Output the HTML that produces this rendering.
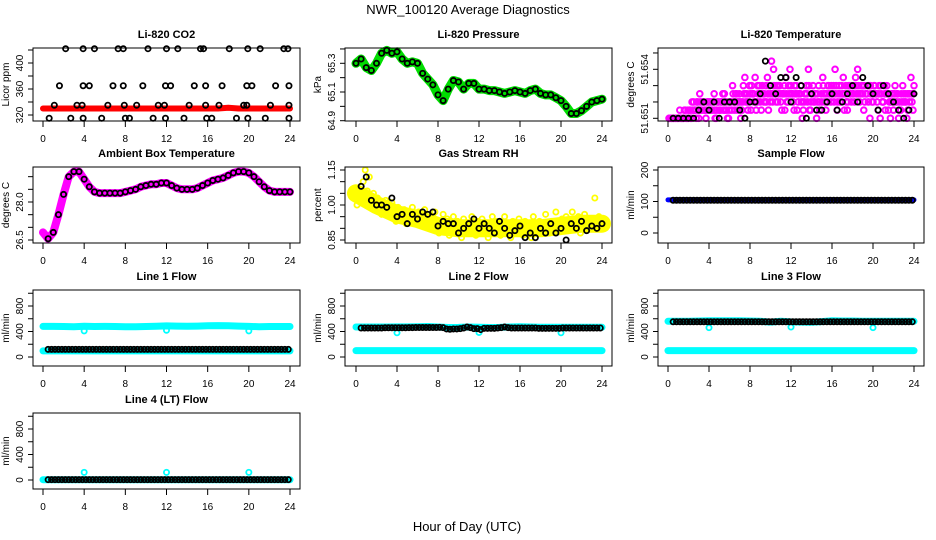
<!DOCTYPE html>
<html><head><meta charset="utf-8"><title>NWR_100120 Average Diagnostics</title>
<style>
html,body{margin:0;padding:0;background:#fff;}
svg{display:block;font-family:"Liberation Sans",Arial,sans-serif;}
</style></head>
<body>
<svg id="chart" width="936" height="540" viewBox="0 0 936 540" xmlns="http://www.w3.org/2000/svg">
<rect x="0" y="0" width="936" height="540" fill="#fff"/>
<text x="468" y="14" text-anchor="middle" font-size="13">NWR_100120  Average Diagnostics</text>
<text x="467" y="531" text-anchor="middle" font-size="13">Hour of Day (UTC)</text>
</svg>
<script>
// ---------- data ----------
const xTicks = [0,4,8,12,16,20,24];
const co2HighX = [2.2,3.9,5.0,7.3,7.8,10.2,12.0,13.1,15.3,15.6,18.1,19.9,21.1,23.4,23.8];
const co2MidX = [1.6,3.9,4.5,6.8,7.8,9.7,11.9,12.4,14.7,15.8,17.4,19.8,20.3,22.6,23.9];
const co2LowX = [1.1,3.3,3.8,6.3,7.9,9.1,11.2,11.8,14.2,15.8,17.1,19.5,19.8,22.1,23.9];
const co2MinX = [0.6,2.7,3.9,5.7,8.0,8.4,10.7,11.9,13.7,15.9,16.4,18.8,19.9,21.6,23.9];
const co2Levels = [422,365,335,315];
const co2Red = [330,330,330,330,330,330,330,330,330,330,330,330,330,330,330,330,330,330,331,330,330,330,330,330,330];
const pressure = [65.30,65.33,65.27,65.25,65.30,65.37,65.39,65.37,65.38,65.33,65.30,65.31,65.30,65.23,65.19,65.15,65.08,65.04,65.12,65.18,65.17,65.12,65.16,65.16,65.12,65.12,65.11,65.11,65.10,65.09,65.10,65.11,65.10,65.09,65.11,65.12,65.09,65.08,65.08,65.06,65.04,65.00,64.95,64.95,64.97,65.00,65.03,65.04,65.05];
const tempPinkA = [0,0,0,0,0,0,0,0,1,0, 1,0,2,1,2,3,1,2,0,2, 2,1,3,0,2,1,2,3,1,0, 2,4,1,3,2,0,2,5,3,2, 1,3,5,2,4,1,3,2,5,4, 7,6,3,2,4,1,3,5,2,6, 3,1,4,2,3,0,2,4,6,1, 3,2,0,4,1,5,2,3,4,2, 3,6,1,4,2,5,3,1,4,2, 3,5,6,2,4,1,3,4,0,2, 4,3,1,0,2,4,3,1,0,2, 3,2,0,1,4,2,0,3,5,1];
const tempPinkB = [0,0,0,0,0,0,0,1,0,0, 0,1,1,2,0,1,2,1,2,1, 1,2,0,2,1,2,1,2,0,2, 1,2,3,1,2,1,3,2,1,3, 3,2,1,3,2,4,3,2,1,3, 2,3,4,3,2,3,1,2,3,4, 2,3,1,3,2,1,3,2,1,3, 2,3,2,1,2,3,1,4,3,3, 2,4,3,2,3,1,2,4,3,3, 2,3,4,3,3,2,3,4,3,2, 3,2,4,3,2,1,3,2,3,1, 2,3,1,2,3,2,1,3,2,4];
const tempPinkC = [0,0,0,0,0,1,0,0,0,1, 1,2,1,0,1,2,2,1,1,2, 2,2,1,1,2,2,3,1,2,1, 2,3,2,2,3,2,4,3,2,4, 4,3,2,4,3,3,2,4,3,2, 3,4,2,4,3,3,4,3,4,3, 3,4,3,3,4,2,3,3,4,2, 4,3,3,2,3,4,3,2,3,4, 4,3,2,3,4,3,4,2,3,4, 4,4,3,3,4,4,3,2,4,3, 4,3,3,4,2,3,4,3,2,3, 4,3,2,3,2,3,3,2,3,3];
const tempBlack = [0,0,0,0,0,1,2,1,2,0,2,2,2,1,0,2,2,3,7,4,3,5,5,2,5,4,0,3,1,1,2,3,1,2,3,4,2,5,4,3,1,4,3,2,1,0,1,3];
const ambient = [26.8,26.55,26.8,27.5,28.3,29.0,29.2,29.2,28.9,28.6,28.4,28.35,28.35,28.35,28.35,28.35,28.4,28.45,28.5,28.6,28.65,28.7,28.7,28.75,28.75,28.65,28.55,28.5,28.5,28.5,28.55,28.65,28.75,28.85,28.9,28.95,29.05,29.15,29.2,29.2,29.15,29.0,28.8,28.6,28.45,28.4,28.4,28.4,28.4];
const rhTrend = [1.05,1.00,0.96,0.94,0.91,0.90,0.90,0.90,0.90,0.90,0.91,0.92,0.92];
const rhYellow = [1.00,1.03,1.08,1.10,1.15,1.06,1.12,1.02,1.05,0.98, 1.03,1.01,0.96,1.00,1.02,0.98,0.95,1.01,0.97,0.93, 0.99,0.96,0.94,0.98,0.92,0.97,0.95,0.99,0.93,0.96, 0.97,0.92,0.95,0.98,0.94,0.96,0.91,0.95,0.97,0.93, 0.88,0.93,0.96,0.90,0.94,0.87,0.92,0.95,0.89,0.93, 0.91,0.86,0.94,0.90,0.92,0.88,0.95,0.91,0.87,0.93, 0.90,0.94,0.88,0.92,0.86,0.91,0.95,0.89,0.93,0.90, 0.87,0.92,0.95,0.88,0.91,0.86,0.93,0.90,0.88,0.94, 0.91,0.87,0.93,0.89,0.92,0.86,0.95,0.90,0.88,0.93, 0.92,0.89,0.96,0.91,0.88,0.93,0.90,0.97,0.92,0.89, 0.94,0.91,0.95,0.89,0.93,0.97,0.90,0.92,0.95,0.88, 0.93,0.96,0.91,0.94,0.90,0.93,1.03,0.92,0.95,0.91];
const rhBlack = [1.08,1.12,1.02,1.00,1.00,0.99,1.03,0.95,0.96,0.92,0.96,0.94,0.97,0.96,0.97,0.91,0.93,0.92,0.92,0.88,0.90,0.92,0.94,0.90,0.92,0.90,0.88,0.93,0.90,0.87,0.89,0.91,0.86,0.88,0.86,0.90,0.88,0.92,0.88,0.90,0.85,0.92,0.90,0.93,0.89,0.91,0.90,0.92];
const sampleBlue = [105,105,105,105,105,105,105,105,105,105,105,105,105,105,105,105,105,105,105,105,105,105,105,105,105];
const sampleBlack = new Array(71).fill(104);
const line1CyanHigh = [480,480,478,475,482,478,480,478,476,475,478,482,488,485,482,484,490,492,490,485,480,476,478,478,478];
const line1CyanLow = [95,95,95,95,95,95,95,95,95,95,95,95,95,95,95,95,95,95,95,95,95,95,95,95,95];
const line1Black = new Array(71).fill(120);
const line2CyanHigh = [470,470,470,470,472,472,475,478,470,462,465,470,466,462,465,470,474,470,468,468,466,466,466,466,466];
const line2CyanLow = [100,100,100,100,100,100,100,100,100,100,100,100,100,100,100,100,100,100,100,100,100,100,100,100,100];
const line2Black = [455,455,455,455,455,455,455,458,458,458,458,458,458,458,460,460,462,462,462,462,462,462,462,465,460,440,435,440,440,445,455,470,460,445,445,430,450,450,450,450,455,460,470,460,455,455,455,455,455,455,455,455,450,450,450,450,450,450,450,455,455,455,455,455,455,455,455,455,455,455,455];
const line3CyanHigh = [560,560,560,565,570,570,570,570,565,560,548,560,550,548,545,555,568,565,565,560,560,560,560,560,560];
const line3CyanLow = [100,100,100,100,100,100,100,100,100,100,100,100,100,100,100,100,100,100,100,100,100,100,100,100,100];
const line3Black = new Array(71).fill(552);
const line4Cyan = [5,5,5,5,5,5,5,5,5,5,5,5,5,5,5,5,5,5,5,5,5,5,5,5,5];
const line4Black = new Array(71).fill(5);
const cyanOutlierX = [4,12,20];
const line1Outlier = [410,420,410];
const line2Outlier = [380,385,380];
const line3Outlier = [460,470,460];
const line4Outlier = [120,120,120];

// ---------- layout ----------
const NS = "http://www.w3.org/2000/svg";
const svg = document.getElementById('chart');
const cols = [{l:33,r:300,x0:43,x24:290},{l:345,r:612,x0:356,x24:602},{l:658,r:924,x0:668,x24:914}];
const rows = [{t:48,b:121},{t:167,b:243},{t:290,b:366},{t:413,b:489}];

function el(tag, attrs, parent){
  const e = document.createElementNS(NS, tag);
  for (const k in attrs) e.setAttribute(k, attrs[k]);
  (parent||svg).appendChild(e);
  return e;
}

function panel(name, title, c, r, ys, ylab){
  const C = cols[c], R = rows[r];
  const g = el('g', {});
  
  
  const x = t => C.x0 + (C.x24 - C.x0) * t / 24;
  const y = v => ys.p0 + (ys.p1 - ys.p0) * (v - ys.v0) / (ys.v1 - ys.v0);
  const marks = el('g', {}, g);
  
  
  const box = el('rect', {x:C.l, y:R.t, width:C.r-C.l, height:R.b-R.t, fill:'none', stroke:'#000', 'stroke-width':1}, g);
  
  
  const tt = el('text', {x:(C.l+C.r)/2, y:R.t-10, 'text-anchor':'middle', 'font-size':11, 'font-weight':'bold'}, g);
  tt.textContent = title;
  
  
  const xa = el('g', {}, g);
  
  
  xTicks.forEach(t => {
    el('line', {x1:x(t), x2:x(t), y1:R.b, y2:R.b+6, stroke:'#000'}, xa);
    const lb = el('text', {x:x(t), y:R.b+21, 'text-anchor':'middle', 'font-size':10}, xa);
    lb.textContent = t;
    
    
  });
  const ya = el('g', {}, g);
  
  
  ys.ticks.forEach(v => el('line', {x1:C.l-5, x2:C.l, y1:y(v), y2:y(v), stroke:'#000'}, ya));
  ys.labels.forEach(v => {
    const lb = el('text', {x:C.l-10, y:y(v), 'text-anchor':'middle', 'font-size':10, transform:'rotate(-90 '+(C.l-10)+' '+y(v)+')'}, ya);
    lb.textContent = ys.fmt ? ys.fmt(v) : v;
    
    
  });
  const yl = el('text', {x:C.l-24, y:(R.t+R.b)/2, 'text-anchor':'middle', 'font-size':10, transform:'rotate(-90 '+(C.l-24)+' '+((R.t+R.b)/2)+')'}, g);
  yl.textContent = ylab;
  
  
  return {x, y, g:marks};
}

function pts(p, xs, vs, color, nm, rad, sw){
  vs.forEach((v, i) => {
    const c = el('circle', {cx:p.x(xs[i]), cy:p.y(v), r:rad||2.6, fill:'none', stroke:color, 'stroke-width':sw||1.8}, p.g);
    
    
  });
}
function band(p, xs, vs, color, w, nm){
  const d = vs.map((v, i) => (i ? 'L' : 'M') + p.x(xs[i]).toFixed(1) + ' ' + p.y(v).toFixed(1)).join(' ');
  const e = el('path', {d, fill:'none', stroke:color, 'stroke-width':w, 'stroke-linejoin':'round', 'stroke-linecap':'round'}, p.g);
  
  
}
const range = (n, a, s) => Array.from({length:n}, (_, i) => a + i * s);
const hourly = range(25, 0, 1);
const thirds = range(71, 0.5, 1/3);
const halves = range(49, 0, 0.5);

// CO2
let p = panel('co2-panel', 'Li-820 CO2', 0, 0, {v0:320,p0:115,v1:400,p1:63,ticks:[320,340,360,380,400,420],labels:[320,360,400]}, 'Licor ppm');
band(p, hourly, co2Red, '#ff0000', 6, 'co2-red-series');
[co2HighX, co2MidX, co2LowX, co2MinX].forEach((xs, k) => pts(p, xs, xs.map(() => co2Levels[k]), '#000', 'co2-black-point'));

// Pressure
p = panel('pressure-panel', 'Li-820 Pressure', 1, 0, {v0:64.9,p0:120.7,v1:65.3,p1:63.3,ticks:[64.9,65.0,65.1,65.2,65.3,65.4],labels:[64.9,65.1,65.3],fmt:v=>v.toFixed(1)}, 'kPa');
band(p, halves, pressure, '#00dd00', 9, 'pressure-green-series');
pts(p, halves, pressure, '#000', 'pressure-black-point');

// Li-820 temperature
p = panel('temperature-panel', 'Li-820 Temperature', 2, 0, {v0:51.651,p0:118.3,v1:51.654,p1:69.3,ticks:[51.651,51.652,51.653,51.654,51.655],labels:[51.651,51.654],fmt:v=>v.toFixed(3)}, 'degrees C');
pts(p, range(120, 0.1, 0.2), tempPinkA.map(l => 51.651 + l*0.0005), '#ff00ff', 'temperature-magenta-point', 2.8, 2);
pts(p, range(120, 0.2, 0.2), tempPinkB.map(l => 51.651 + l*0.0005), '#ff00ff', 'temperature-magenta-point', 2.8, 2);
pts(p, range(120, 0.15, 0.2), tempPinkC.map(l => 51.651 + l*0.0005), '#ff00ff', 'temperature-magenta-point', 2.8, 2);
pts(p, range(48, 0.5, 0.5), tempBlack.map(l => 51.651 + l*0.0005), '#000', 'temperature-black-point');

// Ambient box temperature
p = panel('ambient-panel', 'Ambient Box Temperature', 0, 1, {v0:26.5,p0:240,v1:28.0,p1:202,ticks:[26.5,27,27.5,28,28.5,29],labels:[26.5,28.0],fmt:v=>v.toFixed(1)}, 'degrees C');
band(p, halves, ambient, '#ff00ff', 8, 'ambient-magenta-series');
pts(p, halves.slice(1), ambient.slice(1), '#000', 'ambient-black-point');

// Gas stream RH
p = panel('rh-panel', 'Gas Stream RH', 1, 1, {v0:0.85,p0:240,v1:1.15,p1:170,ticks:[0.85,0.9,0.95,1.0,1.05,1.1,1.15],labels:[0.85,1.00,1.15],fmt:v=>v.toFixed(2)}, 'percent');
band(p, range(13, 0, 2), rhTrend, '#ffff00', 18, 'rh-yellow-band');
pts(p, range(120, 0.1, 0.2), rhYellow, '#ffff00', 'rh-yellow-point', 2.6, 1.8);
pts(p, range(48, 0.5, 0.5), rhBlack, '#000', 'rh-black-point');

// Sample flow
p = panel('sample-flow-panel', 'Sample Flow', 2, 1, {v0:0,p0:233,v1:200,p1:170,ticks:[0,50,100,150,200],labels:[0,100,200]}, 'ml/min');
band(p, hourly, sampleBlue, '#0000ff', 5, 'sample-blue-series');
pts(p, thirds, sampleBlack, '#000', 'sample-black-point');

// Line flows
const fy3 = {v0:0,p0:357,v1:800,p1:306,ticks:[0,200,400,600,800,1000],labels:[0,400,800]};
const fy4 = {v0:0,p0:480,v1:800,p1:429,ticks:[0,200,400,600,800,1000],labels:[0,400,800]};
p = panel('line1-panel', 'Line 1 Flow', 0, 2, fy3, 'ml/min');
band(p, hourly, line1CyanHigh, '#00ffff', 7, 'line1-cyan-high');
band(p, hourly, line1CyanLow, '#00ffff', 7, 'line1-cyan-low');
pts(p, cyanOutlierX, line1Outlier, '#00ffff', 'line1-cyan-outlier');
pts(p, thirds, line1Black, '#000', 'line1-black-point');

p = panel('line2-panel', 'Line 2 Flow', 1, 2, fy3, 'ml/min');
band(p, hourly, line2CyanHigh, '#00ffff', 7, 'line2-cyan-high');
band(p, hourly, line2CyanLow, '#00ffff', 7, 'line2-cyan-low');
pts(p, cyanOutlierX, line2Outlier, '#00ffff', 'line2-cyan-outlier');
pts(p, thirds, line2Black, '#000', 'line2-black-point');

p = panel('line3-panel', 'Line 3 Flow', 2, 2, fy3, 'ml/min');
band(p, hourly, line3CyanHigh, '#00ffff', 7, 'line3-cyan-high');
band(p, hourly, line3CyanLow, '#00ffff', 7, 'line3-cyan-low');
pts(p, cyanOutlierX, line3Outlier, '#00ffff', 'line3-cyan-outlier');
pts(p, thirds, line3Black, '#000', 'line3-black-point');

p = panel('line4-panel', 'Line 4 (LT) Flow', 0, 3, fy4, 'ml/min');
band(p, hourly, line4Cyan, '#00ffff', 7, 'line4-cyan-series');
pts(p, cyanOutlierX, line4Outlier, '#00ffff', 'line4-cyan-outlier');
pts(p, thirds, line4Black, '#000', 'line4-black-point');
</script>
</body></html>
